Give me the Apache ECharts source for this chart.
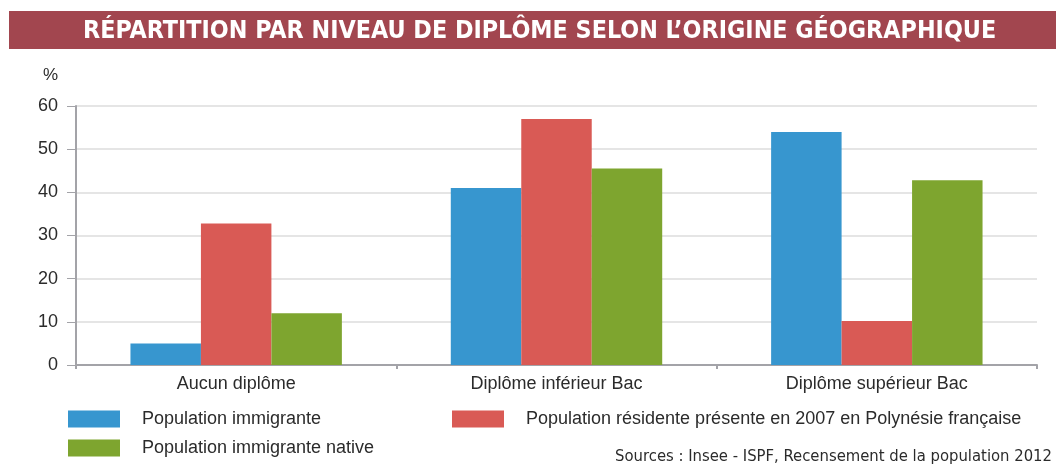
<!DOCTYPE html>
<html>
<head>
<meta charset="utf-8">
<script src="https://cdn.jsdelivr.net/npm/echarts@6/dist/echarts.min.js"></script>
<style>
  html, body { margin: 0; padding: 0; background: #fff; }
  #chart { width: 1056px; height: 464px; }
</style>
</head>
<body>
<div id="chart"></div>
<script>
// data
const categories = ["Aucun diplôme", "Diplôme inférieur Bac", "Diplôme supérieur Bac"];
const seriesNames = [
  "Population immigrante",
  "Population résidente présente en 2007 en Polynésie française",
  "Population immigrante native"
];
const immigrante = [5, 41, 54];
const residente = [32.8, 57, 10.2];
const native = [12, 45.5, 42.8];
const yTicks = [0, 10, 20, 30, 40, 50, 60];

const C = { blue: "#3796cf", red: "#d95a55", green: "#7ea52f", banner: "#a2464f", axis: "#a3a3a8", grid: "#dcdcdc", text: "#2b2b2b" };
const FONT = "'Liberation Sans', Arial, sans-serif";
const COND = "'DejaVu Sans Condensed', 'DejaVu Sans', sans-serif";

const chart = echarts.init(document.getElementById("chart"));

function legendAt(name, left, top) {
  return {
    data: [name], left, top, orient: "horizontal",
    itemWidth: 52, itemHeight: 17, icon: "rect",
    textStyle: { fontFamily: FONT, fontSize: 18, color: C.text, padding: [0, 0, 0, 17] },
    selectedMode: false
  };
}

chart.setOption({
  animation: false,
  backgroundColor: "#fff",
  grid: { left: 76, right: 19, top: 106, bottom: 99 },
  legend: [
    legendAt(seriesNames[0], 63, 405),
    legendAt(seriesNames[1], 447, 405),
    legendAt(seriesNames[2], 63, 434)
  ],
  graphic: [
    { type: "rect", left: 9, top: 11, shape: { width: 1047, height: 38 }, style: { fill: C.banner } },
    { type: "text", left: 83, top: 19,
      style: { text: "RÉPARTITION PAR NIVEAU DE DIPLÔME SELON L’ORIGINE GÉOGRAPHIQUE",
        fill: "#fff", font: "bold 24.8px " + COND } },
    { type: "text", right: 4, top: 448,
      style: { text: "Sources : Insee - ISPF, Recensement de la population 2012",
        fill: C.text, font: "16.5px " + COND } }
  ],
  xAxis: {
    type: "category", data: categories,
    axisLine: { lineStyle: { color: C.axis, width: 2 } },
    axisTick: { show: true, length: 4, lineStyle: { color: C.axis, width: 2 } },
    axisLabel: { fontFamily: FONT, fontSize: 18, color: C.text, margin: 10 }
  },
  yAxis: {
    type: "value", min: yTicks[0], max: yTicks[yTicks.length - 1], interval: 10,
    name: "%", nameLocation: "end", nameGap: 22,
    nameTextStyle: { fontFamily: FONT, fontSize: 17, color: C.text, align: "right", padding: [0, 18, 0, 0] },
    axisLine: { show: true, lineStyle: { color: C.axis, width: 2 } },
    axisTick: { show: true, length: 9, lineStyle: { color: C.axis, width: 1 } },
    axisLabel: { fontFamily: FONT, fontSize: 18, color: C.text, margin: 18 },
    splitLine: { lineStyle: { color: C.grid, width: 1.5 } }
  },
  series: [
    { name: seriesNames[0], type: "bar", data: immigrante, color: C.blue, barGap: "0%", barCategoryGap: "34%" },
    { name: seriesNames[1], type: "bar", data: residente, color: C.red },
    { name: seriesNames[2], type: "bar", data: native, color: C.green }
  ]
});
</script>
</body>
</html>
